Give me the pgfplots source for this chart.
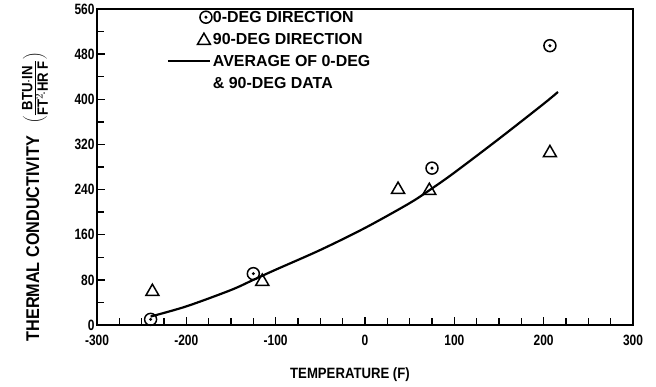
\documentclass[border=0pt]{standalone}
\usepackage{pgfplots}
\pgfplotsset{compat=1.18}
\usepackage{fontspec}
\setmainfont{Liberation Sans}
\newfontfamily\cond[FakeStretch=0.88]{Liberation Sans}
\newfontfamily\tcond[FakeStretch=0.8]{Liberation Sans}
\pgfdeclareplotmark{odot}{%
  \pgfpathcircle{\pgfpointorigin}{\pgfplotmarksize}\pgfusepathqstroke
  \pgfpathcircle{\pgfpointorigin}{0.28\pgfplotmarksize}\pgfusepathqfill}
\pgfplotsset{
  legcirc/.style={legend image code/.code={\path[draw=none,fill=none] (0bp,-11bp) rectangle (43bp,11bp); \draw[##1] plot coordinates {(38bp,0bp)};}},
  legtri/.style={legend image code/.code={\path[draw=none,fill=none] (0bp,-11bp) rectangle (43bp,11bp); \draw[##1] plot coordinates {(36bp,-1.5bp)};}},
  legline/.style={legend image code/.code={\path[draw=none,fill=none] (0bp,-11bp) rectangle (43bp,11bp); \draw[line width=1.5bp] (0bp,0bp) -- (42bp,0bp);}},
  legempty/.style={legend image code/.code={\path[draw=none,fill=none] (0bp,-11bp) rectangle (43bp,11bp);}},
}

\begin{document}
\begin{tikzpicture}
\begin{axis}[
  at={(0,0)}, anchor=south west,
  scale only axis, width=536bp, height=316bp,
  xmin=-300, xmax=300, ymin=0, ymax=560,
  xtick={-300,-200,...,300}, minor x tick num=3,
  ytick={0,80,...,560}, minor y tick num=1,
  xtick pos=bottom, ytick pos=left, tick align=inside,
  major tick length=8bp, minor tick length=7bp,
  every tick/.style={black, line width=1.3bp},
  axis line style={line width=1.8bp},
  /pgf/number format/assume math mode=true,
  tick label style={font=\fontsize{15}{15}\selectfont\tcond\bfseries},
  xticklabel style={yshift=-7bp},
  yticklabel style={xshift=1bp},
  xlabel={TEMPERATURE (F)},
  xlabel style={at={(axis description cs:0.472,0)}, anchor=center, yshift=-50bp, font=\fontsize{15}{15}\selectfont\cond\bfseries},
  ylabel={THERMAL CONDUCTIVITY\hspace{12bp}$\left(\frac{\mbox{\fontsize{15}{15}\selectfont\cond\bfseries BTU$\cdot$IN}}{\mbox{\fontsize{15}{15}\selectfont\cond\bfseries FT$^{2}\!\cdot$HR F}}\right)$},
  ylabel style={at={(axis description cs:-0.1157,0.405)}, anchor=center, font=\fontsize{18.5}{18.5}\selectfont\cond\bfseries},
  legend style={at={(axis description cs:0.1306,1.0095)}, anchor=north west, draw=none, fill=none,
    font=\fontsize{16}{21.5}\selectfont\bfseries, inner sep=0pt, row sep=0pt, column sep=0pt,
    nodes={inner sep=1bp}},
  legend cell align=left,
]
\addplot[only marks, mark=odot, mark size=6bp, line width=1.5bp, legcirc]
  coordinates {(-240,10) (-125,91) (75,278) (207,495)};
\addlegendentry{0-DEG DIRECTION}
\addplot[only marks, mark=triangle, mark size=7.5bp, line width=1.5bp, legtri]
  coordinates {(-238,59) (-115,77) (37,240) (72,238) (207,305)};
\addlegendentry{90-DEG DIRECTION}
\addplot[no marks, smooth, line width=2.2bp, legline]
  coordinates {(-240,15) (-200,33) (-150,62) (-125,80) (-100,98) (-50,133) (0,172) (50,216) (75,242) (100,270) (150,330) (200,392) (216,413)};
\addlegendentry{AVERAGE OF 0-DEG}
\addlegendimage{legempty}
\addlegendentry{\& 90-DEG DATA}
\end{axis}
\pgfresetboundingbox
\path[use as bounding box] (-97bp,-62bp) rectangle (559bp,325bp);
\end{tikzpicture}
\end{document}
